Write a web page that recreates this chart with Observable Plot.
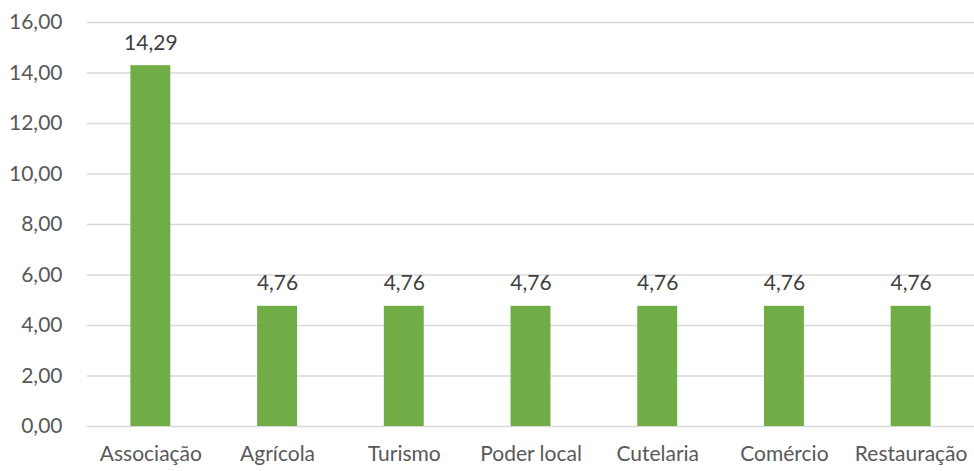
<!DOCTYPE html>
<html>
<head>
<meta charset="utf-8">
<script src="https://cdn.jsdelivr.net/npm/d3@7"></script>
<script src="https://cdn.jsdelivr.net/npm/@observablehq/plot@0.6"></script>
<style>
  html, body { margin: 0; padding: 0; background: #fff; }
  #chart svg { display: block; }
</style>
</head>
<body>
<div id="chart"></div>
<script>
const categories = ["Associação", "Agrícola", "Turismo", "Poder local", "Cutelaria", "Comércio", "Restauração"];
const values = [14.29, 4.76, 4.76, 4.76, 4.76, 4.76, 4.76];
const yTicks = [0, 2, 4, 6, 8, 10, 12, 14, 16];

const data = categories.map((c, i) => ({category: c, value: values[i]}));
const fmt = v => v.toFixed(2).replace(".", ",");
const font = "Lato, 'Open Sans', sans-serif";

const chart = Plot.plot({
  width: 974,
  height: 471,
  marginLeft: 87,
  marginRight: 0,
  marginTop: 22,
  marginBottom: 45,
  style: {fontFamily: font, fontSize: "21px", color: "#595959", background: "#fff"},
  x: {domain: categories, paddingInner: 0.685, paddingOuter: 0.3425, round: false, label: null, tickSize: 0, tickPadding: 20},
  y: {domain: [0, 16], ticks: yTicks, tickFormat: fmt, label: null, tickSize: 0, tickPadding: 25},
  marks: [
    Plot.gridY(yTicks, {stroke: "#d9d9d9", strokeOpacity: 1, strokeWidth: 1.5}),
    Plot.barY(data, {x: "category", y: "value", fill: "#70AD47"}),
    Plot.text(data, {x: "category", y: "value", text: d => fmt(d.value), lineAnchor: "bottom", dy: -16, fill: "#404040", fontSize: 21})
  ]
});
document.getElementById("chart").appendChild(chart);
</script>
</body>
</html>
